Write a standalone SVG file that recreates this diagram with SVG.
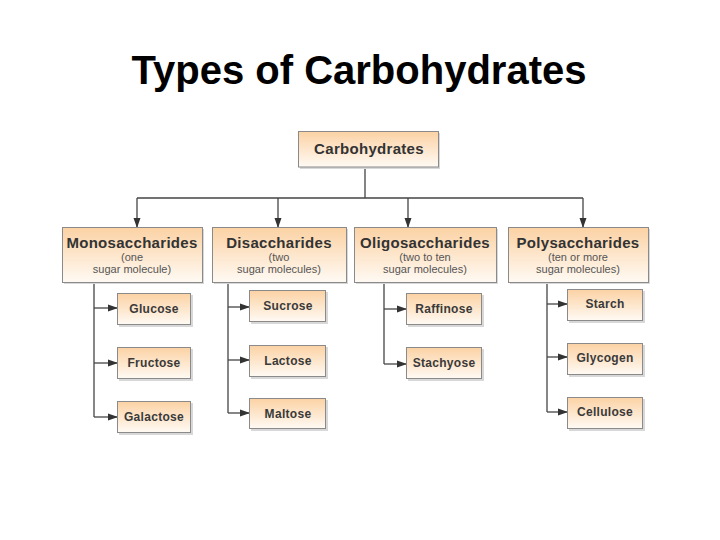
<svg xmlns="http://www.w3.org/2000/svg" width="720" height="540" viewBox="0 0 720 540">
<defs>
<linearGradient id="g" x1="0" y1="0" x2="0" y2="1">
<stop offset="0" stop-color="#fbd2a4"/>
<stop offset="1" stop-color="#fffaf4"/>
</linearGradient>
<marker id="ah" markerWidth="10" markerHeight="8" refX="9" refY="4" orient="auto" markerUnits="userSpaceOnUse">
<path d="M0,0.5 L10,4 L0,7.5 Z" fill="#333"/>
</marker>
<style>
.box{fill:url(#g);stroke:#8a8a8a;stroke-width:1}
.sh{fill:#d8d8d8}
.h{font-family:"Liberation Sans",Arial,sans-serif;font-weight:bold;font-size:15px;letter-spacing:0.3px;fill:#333;text-anchor:middle}
.s{font-family:"Liberation Sans",Arial,sans-serif;font-size:11px;fill:#555;text-anchor:middle}
.c{font-family:"Liberation Sans",Arial,sans-serif;font-weight:bold;font-size:12px;letter-spacing:0.3px;fill:#3a3a3a;text-anchor:middle}
.ln{stroke:#444;stroke-width:1.3;fill:none}
.ar{stroke:#444;stroke-width:1.3;fill:none;marker-end:url(#ah)}
</style>
</defs>
<rect width="720" height="540" fill="#fff"/>
<text x="359" y="84" font-family="Liberation Sans,Arial,sans-serif" font-weight="bold" font-size="40" fill="#000" text-anchor="middle">Types of Carbohydrates</text>

<g id="connectors">
<path class="ln" d="M365,167 V198 M137,198 H583"/>
<path class="ar" d="M137,198 V227"/>
<path class="ar" d="M278,198 V227"/>
<path class="ar" d="M408,198 V227"/>
<path class="ar" d="M583,198 V227"/>
<path class="ln" d="M94,283 V417"/>
<path class="ar" d="M94,308 H117"/>
<path class="ar" d="M94,363 H117"/>
<path class="ar" d="M94,417 H117"/>
<path class="ln" d="M228,283 V413"/>
<path class="ar" d="M228,307 H249"/>
<path class="ar" d="M228,360 H249"/>
<path class="ar" d="M228,413 H249"/>
<path class="ln" d="M384,283 V364"/>
<path class="ar" d="M384,309 H406"/>
<path class="ar" d="M384,364 H406"/>
<path class="ln" d="M547,283 V412"/>
<path class="ar" d="M547,304 H567"/>
<path class="ar" d="M547,357 H567"/>
<path class="ar" d="M547,412 H567"/>
</g>

<g id="carbohydrates">
<rect class="sh" x="300" y="133" width="140" height="36"/>
<rect class="box" x="298.5" y="131.5" width="140" height="35.5"/>
<text class="h" x="369" y="154" font-size="14">Carbohydrates</text>
</g>

<g id="monosaccharides">
<rect class="sh" x="64" y="229" width="140" height="55"/>
<rect class="box" x="62.5" y="227.5" width="140" height="55"/>
<text class="h" x="132" y="248">Monosaccharides</text>
<text class="s" x="132" y="261">(one</text>
<text class="s" x="132" y="273">sugar molecule)</text>
</g>
<g id="disaccharides">
<rect class="sh" x="214" y="229" width="134" height="55"/>
<rect class="box" x="212.5" y="227.5" width="134" height="55"/>
<text class="h" x="279" y="248">Disaccharides</text>
<text class="s" x="279" y="261">(two</text>
<text class="s" x="279" y="273">sugar molecules)</text>
</g>
<g id="oligosaccharides">
<rect class="sh" x="356" y="229" width="142" height="55"/>
<rect class="box" x="354.5" y="227.5" width="142" height="55"/>
<text class="h" x="425" y="248">Oligosaccharides</text>
<text class="s" x="425" y="261">(two to ten</text>
<text class="s" x="425" y="273">sugar molecules)</text>
</g>
<g id="polysaccharides">
<rect class="sh" x="510" y="229" width="140" height="55"/>
<rect class="box" x="508.5" y="227.5" width="140" height="55"/>
<text class="h" x="578" y="248">Polysaccharides</text>
<text class="s" x="578" y="261">(ten or more</text>
<text class="s" x="578" y="273">sugar molecules)</text>
</g>

<g id="glucose"><rect class="sh" x="119" y="295" width="74" height="32"/><rect class="box" x="117.5" y="293.5" width="73" height="31"/><text class="c" x="154" y="313">Glucose</text></g>
<g id="fructose"><rect class="sh" x="119" y="349" width="74" height="32"/><rect class="box" x="117.5" y="347.5" width="73" height="31"/><text class="c" x="154" y="367">Fructose</text></g>
<g id="galactose"><rect class="sh" x="119" y="403" width="74" height="32"/><rect class="box" x="117.5" y="401.5" width="73" height="31"/><text class="c" x="154" y="421">Galactose</text></g>

<g id="sucrose"><rect class="sh" x="251" y="292" width="77" height="32"/><rect class="box" x="249.5" y="290.5" width="76" height="31"/><text class="c" x="288" y="310">Sucrose</text></g>
<g id="lactose"><rect class="sh" x="251" y="347" width="77" height="32"/><rect class="box" x="249.5" y="345.5" width="76" height="31"/><text class="c" x="288" y="365">Lactose</text></g>
<g id="maltose"><rect class="sh" x="251" y="400" width="77" height="31"/><rect class="box" x="249.5" y="398.5" width="76" height="30"/><text class="c" x="288" y="418">Maltose</text></g>

<g id="raffinose"><rect class="sh" x="408" y="295" width="76" height="32"/><rect class="box" x="406.5" y="293.5" width="75" height="31"/><text class="c" x="444" y="313">Raffinose</text></g>
<g id="stachyose"><rect class="sh" x="408" y="349" width="76" height="32"/><rect class="box" x="406.5" y="347.5" width="75" height="31"/><text class="c" x="444" y="367">Stachyose</text></g>

<g id="starch"><rect class="sh" x="569" y="291" width="76" height="32"/><rect class="box" x="567.5" y="289.5" width="75" height="31"/><text class="c" x="605" y="308">Starch</text></g>
<g id="glycogen"><rect class="sh" x="569" y="345" width="76" height="32"/><rect class="box" x="567.5" y="343.5" width="75" height="31"/><text class="c" x="605" y="362">Glycogen</text></g>
<g id="cellulose"><rect class="sh" x="569" y="399" width="76" height="32"/><rect class="box" x="567.5" y="397.5" width="75" height="31"/><text class="c" x="605" y="416">Cellulose</text></g>
</svg>
